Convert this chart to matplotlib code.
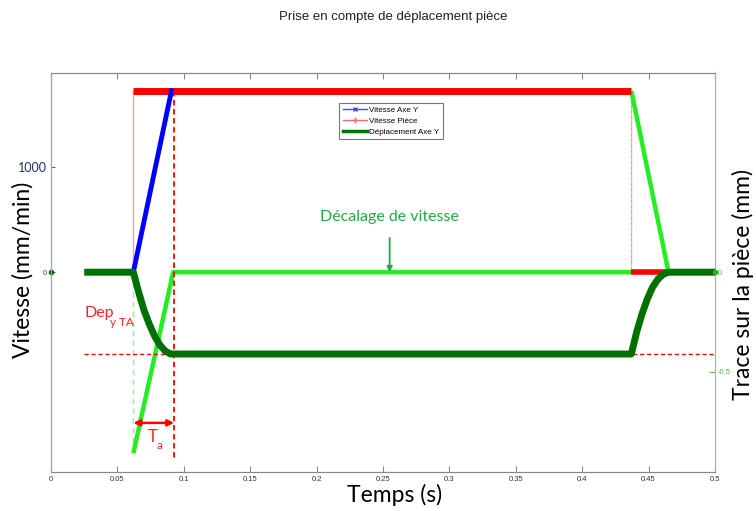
import matplotlib
matplotlib.use("Agg")
import matplotlib.pyplot as plt
from matplotlib.lines import Line2D

# ---- data ----
# Vitesse Axe Y (mm/min)
axe_t = [0.062, 0.0907]
axe_v = [0, 1727]
# Vitesse Pièce (mm/min)
piece_high_t = [0.0615, 0.437]
piece_high_v = [1727, 1727]
piece_low_t = [0.437, 0.465]
piece_low_v = [0, 0]
piece_step1_t = [0.062, 0.062]
piece_step1_v = [0, 1727]
piece_step2_t = [0.437, 0.437]
piece_step2_v = [1727, 0]
# Décalage de vitesse (mm/min)
dec1_t = [0.062, 0.092, 0.437]
dec1_v = [-1725, 0, 0]
dec2_t = [0.437, 0.465]
dec2_v = [1727, 0]
dec_step1_t = [0.062, 0.062]
dec_step1_v = [0, -1660]
# Déplacement Axe Y (mm)
dep_t = [0.025, 0.062, 0.066, 0.070, 0.074, 0.078, 0.082, 0.086, 0.090, 0.092,
         0.437, 0.441, 0.445, 0.449, 0.453, 0.457, 0.461, 0.465, 0.5]
dep_y = [0, 0, -0.10, -0.19, -0.26, -0.32, -0.365, -0.395, -0.41, -0.41,
         -0.41, -0.30, -0.21, -0.135, -0.075, -0.035, -0.01, 0, 0]
dep_ta = -0.41
ta_start, ta_end = 0.062, 0.0927

xticks = [0, 0.05, 0.1, 0.15, 0.2, 0.25, 0.3, 0.35, 0.4, 0.45, 0.5]
xticklabels = ["0", "0.05", "0.1", "0.15", "0.2", "0.25", "0.3", "0.35", "0.4", "0.45", "0.5"]

BIG = ["Lato", "DejaVu Sans"]
SMALL = ["Liberation Sans", "DejaVu Sans"]

fig = plt.figure(figsize=(7.56, 5.11), dpi=100)
ax = fig.add_axes([51/756, 1-471.7/511, (715-51)/756, (471.7-72.7)/511])
ax2 = ax.twinx()

ax.set_xlim(0, 0.5)
ax.set_ylim(-1900, 1900)
ax2.set_ylim(-1.0, 1.0)

LIME = "#22ee22"
DARKG = "#007000"

# velocity offset (light green)
ax.plot(dec1_t, dec1_v, color=LIME, lw=3.2, solid_capstyle="butt", zorder=3)
ax.plot(dec2_t, dec2_v, color=LIME, lw=3.2, solid_capstyle="butt", zorder=3)
ax.plot(dec_step1_t, dec_step1_v, color="#99ee99", lw=1.0, ls=(0, (4, 3)), zorder=2)
ax.plot(piece_step2_t, piece_step2_v, color="#aaddaa", lw=1.0, ls=(0, (2, 2)), zorder=2)

# Vitesse pièce (red)
ax.plot(piece_step1_t, piece_step1_v, color="#ff9999", lw=1.0, zorder=2)
ax.plot(piece_step2_t, piece_step2_v, color="#ff9999", lw=1.0, ls=(2, (2, 2)), zorder=2)
ax.plot(piece_high_t, piece_high_v, color="#ff0000", lw=5, solid_capstyle="butt", zorder=4)
ax.plot(piece_low_t, piece_low_v, color="#ff0000", lw=4, solid_capstyle="butt", zorder=4)

# Vitesse axe Y (blue)
ax.plot(axe_t, axe_v, color="#0000ff", lw=3.5, zorder=5)

# Ta dashed vertical
ax.plot([ta_end, ta_end], [1727, -1790], color="#ff0000", lw=1.3, ls=(0, (3, 2)), zorder=6)

# Déplacement (right axis)
ax2.plot([0.025, 0.5], [dep_ta, dep_ta], color="#ff0000", lw=1.0, ls=(0, (3, 2)), zorder=2)
ax2.plot(dep_t, dep_y, color=DARKG, lw=5, solid_capstyle="butt", zorder=3)
ax2.plot([0.5], [0], marker="o", ms=3, color="#33aa33", clip_on=False, zorder=4)
ax.plot([0], [0], marker="o", ms=3, color=DARKG, clip_on=False, zorder=7)

# Ta arrow
ax.annotate("", xy=(ta_start, -1435), xytext=(ta_end, -1435),
            arrowprops=dict(arrowstyle="<|-|>", color="#ff0000", lw=1.8,
                            mutation_scale=9, shrinkA=0, shrinkB=0), zorder=8)
ax.text(0.0725, -1565, "T", color="#ff2222", fontsize=12, family=BIG, ha="left", va="center")
ax.text(0.0795, -1655, "a", color="#ff2222", fontsize=8.5, family=BIG, ha="left", va="center")

# Dep y TA label
ax.text(0.0255, -385, "Dep", color="#ff2222", fontsize=11.5, family=BIG, ha="left", va="center")
ax.text(0.0448, -480, "y TA", color="#ff2222", fontsize=8.5, family=BIG, ha="left", va="center")

# Décalage de vitesse annotation
ax.annotate("Décalage de vitesse", xy=(0.255, 0), xytext=(0.255, 525),
            color="#22aa44", fontsize=11.5, family=BIG, ha="center", va="center",
            arrowprops=dict(arrowstyle="-|>", color="#22aa44", lw=1.3,
                            mutation_scale=8, shrinkA=8, shrinkB=0), zorder=9)

# axes styling
ax.set_xticks(xticks)
ax.set_xticklabels(xticklabels, fontsize=5.5, family=SMALL, color="#333333")
ax.tick_params(axis="x", direction="in", length=4, color="#888888", top=True, pad=3)
ax.set_yticks([0, 1000])
ax.set_yticklabels(["0", "1000"])
ax.tick_params(axis="y", direction="in", length=3, color="#666666", pad=3)
lbls = ax.get_yticklabels()
lbls[0].set_fontsize(5.5); lbls[0].set_color("#3333ff"); lbls[0].set_family(SMALL)
lbls[1].set_fontsize(9); lbls[1].set_color("#1f2f6f"); lbls[1].set_family(BIG)

ax2.set_yticks([0, -0.5])
ax2.set_yticklabels(["0", "-0.5"], fontsize=5.5, family=SMALL, color="#55aa55")
ax2.tick_params(axis="y", direction="in", length=4, color="#66bb66", pad=2)

for a in (ax, ax2):
    a.spines["top"].set_color("#888888")
    a.spines["bottom"].set_color("#888888")
    a.spines["left"].set_color("#9999ff")
    a.spines["right"].set_color("#88cc88")

fig.text(23/756, 1-270/511, "Vitesse (mm/min)", rotation=90, fontsize=16.5, family=BIG,
         ha="center", va="center", color="black")
fig.text(743/756, 1-284/511, "Trace sur la pièce (mm)", rotation=90, fontsize=16.5, family=BIG,
         ha="center", va="center", color="black")
fig.text(395/756, 1-495/511, "Temps (s)", fontsize=16.5, family=BIG, ha="center", va="center")
fig.text(393/756, 1-17/511, "Prise en compte de déplacement pièce", fontsize=9.5,
         family=SMALL, ha="center", va="center", color="#222222")

handles = [
    Line2D([], [], color="#4444ff", lw=1.0, marker="x", ms=3, markevery=[1], ls="-"),
    Line2D([], [], color="#ff6666", lw=1.0, marker="+", ms=4, markevery=[1], ls="-"),
    Line2D([], [], color=DARKG, lw=2.5, marker=".", ms=2, markevery=[1], ls="-"),
]
for h in handles:
    h.set_data([0, 0.5, 1], [0, 0, 0])
leg = fig.legend(handles, ["Vitesse Axe Y", "Vitesse Pièce", "Déplacement Axe Y"],
                 loc="upper left", bbox_to_anchor=(339/756, 1-102.7/511),
                 prop={"family": SMALL, "size": 5.8}, frameon=True, fancybox=False,
                 handlelength=3.0, handletextpad=0.3, borderpad=0.45, labelspacing=0.4,
                 borderaxespad=0)
leg.get_frame().set_edgecolor("#555555")
leg.get_frame().set_linewidth(0.8)
leg.set_zorder(20)

fig.savefig("out.png", dpi=100)
